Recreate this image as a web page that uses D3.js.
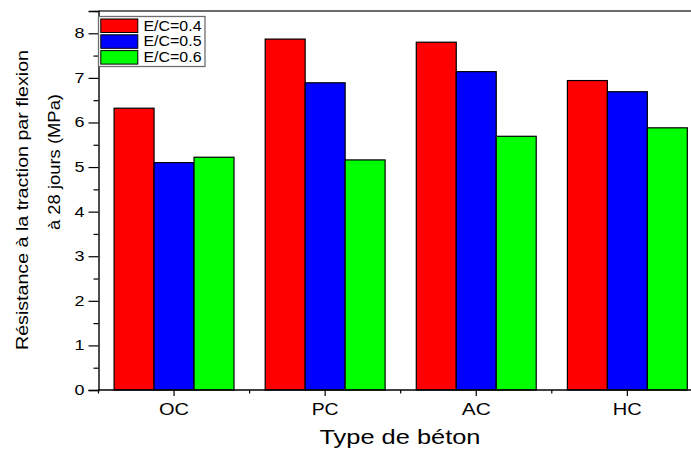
<!DOCTYPE html>
<html>
<head>
<meta charset="utf-8">
<script src="https://cdn.jsdelivr.net/npm/d3@7"></script>
<style>
  html, body { margin: 0; padding: 0; background: #fff; }
  svg { display: block; font-family: "Liberation Sans", Arial, Helvetica, sans-serif; }
</style>
</head>
<body>
<svg id="chart" width="691" height="450"></svg>
<script>
// Flexural tensile strength at 28 days, by concrete type and W/C ratio
const categories = ["OC", "PC", "AC", "HC"];
const seriesNames = ["E/C=0.4", "E/C=0.5", "E/C=0.6"];
const valuesEC04 = [6.32, 7.87, 7.80, 6.94];
const valuesEC05 = [5.10, 6.89, 7.14, 6.69];
const valuesEC06 = [5.22, 5.16, 5.69, 5.88];
const seriesColors = ["#ff0000", "#0000ff", "#00ff00"];
const yTicks = [0, 1, 2, 3, 4, 5, 6, 7, 8];
const yMinorTicks = [0.5, 1.5, 2.5, 3.5, 4.5, 5.5, 6.5, 7.5, 8.5];

const seriesValues = [valuesEC04, valuesEC05, valuesEC06];

const svg = d3.select("#chart");
const plotLeft = 98.5, plotTop = 11, plotBottom = 390;
const step = 151.1;
const plotRight = plotLeft + step * categories.length;   // frame runs past the page edge

const x0 = d3.scaleBand().domain(categories).range([plotLeft, plotRight]).paddingInner(0).paddingOuter(0);
const x1 = d3.scaleBand().domain(seriesNames).range([0, x0.bandwidth()]).paddingInner(0).paddingOuter(0.39);
const y = d3.scaleLinear().domain([0, 8.5]).range([plotBottom, plotTop]);

// Bars
const groups = svg.append("g").selectAll("g")
  .data(categories)
  .join("g")
  .attr("transform", d => `translate(${x0(d)},0)`);

groups.selectAll("rect")
  .data((c, i) => seriesNames.map((s, j) => ({ s, j, v: seriesValues[j][i] })))
  .join("rect")
  .attr("x", d => x1(d.s))
  .attr("y", d => y(d.v))
  .attr("width", x1.bandwidth())
  .attr("height", d => y(0) - y(d.v))
  .attr("fill", d => seriesColors[d.j])
  .attr("stroke", "#000")
  .attr("stroke-width", 1.2);

// Top frame line
svg.append("line")
  .attr("x1", plotLeft).attr("x2", 691)
  .attr("y1", plotTop).attr("y2", plotTop)
  .attr("stroke", "#3a3a3a").attr("stroke-width", 1.6);

// Y axis
const yAxis = d3.axisLeft(y).tickValues(yTicks).tickSize(10).tickPadding(4).tickFormat(d3.format("d"));
const gy = svg.append("g").attr("transform", `translate(${plotLeft},0)`).call(yAxis);
gy.select(".domain").attr("stroke", "#000").attr("stroke-width", 1.4);
gy.selectAll(".tick line").attr("stroke", "#000").attr("stroke-width", 1.2);
gy.selectAll(".tick text")
  .attr("font-size", 14).attr("fill", "#000")
  .attr("font-family", "Liberation Sans, Arial, sans-serif")
  .attr("textLength", 10).attr("lengthAdjust", "spacingAndGlyphs");

const yMinor = d3.axisLeft(y).tickValues(yMinorTicks).tickSize(5).tickFormat("");
const gym = svg.append("g").attr("transform", `translate(${plotLeft},0)`).call(yMinor);
gym.select(".domain").remove();
gym.selectAll(".tick line").attr("stroke", "#000").attr("stroke-width", 1.2);

// X axis
const xAxis = d3.axisBottom(x0).tickSize(6).tickPadding(7).tickSizeOuter(0);
const gx = svg.append("g").attr("transform", `translate(0,${plotBottom})`).call(xAxis);
gx.select(".domain").attr("stroke", "#000").attr("stroke-width", 1.4)
  .attr("d", `M${plotLeft - 0.7},0H691`);
gx.selectAll(".tick line").attr("stroke", "#000").attr("stroke-width", 1.2);
const xLabelWidths = { OC: 30, PC: 27, AC: 29, HC: 29 };
gx.selectAll(".tick text")
  .attr("font-size", 17).attr("fill", "#000")
  .attr("font-family", "Liberation Sans, Arial, sans-serif")
  .attr("textLength", d => xLabelWidths[d]).attr("lengthAdjust", "spacingAndGlyphs");

// Minor x ticks on group boundaries
const boundaries = categories.map(c => x0(c));
svg.append("g").selectAll("line")
  .data(boundaries)
  .join("line")
  .attr("x1", d => d).attr("x2", d => d)
  .attr("y1", plotBottom).attr("y2", plotBottom + 3.5)
  .attr("stroke", "#000").attr("stroke-width", 1.2);

// Axis titles
svg.append("text")
  .attr("x", 400).attr("y", 444)
  .attr("text-anchor", "middle")
  .attr("font-size", 20).attr("fill", "#000")
  .attr("textLength", 161).attr("lengthAdjust", "spacingAndGlyphs")
  .text("Type de béton");

svg.append("text")
  .attr("transform", "translate(28,200) rotate(-90)")
  .attr("text-anchor", "middle")
  .attr("font-size", 17).attr("fill", "#000")
  .attr("textLength", 300).attr("lengthAdjust", "spacingAndGlyphs")
  .text("Résistance à la traction par flexion");

svg.append("text")
  .attr("transform", "translate(60,162) rotate(-90)")
  .attr("text-anchor", "middle")
  .attr("font-size", 17).attr("fill", "#000")
  .attr("textLength", 136).attr("lengthAdjust", "spacingAndGlyphs")
  .text("à 28 jours (MPa)");

// Legend
const legend = svg.append("g");
legend.append("rect")
  .attr("x", 98.5).attr("y", 16.5).attr("width", 106.5).attr("height", 50)
  .attr("fill", "#fff").attr("stroke", "#6e6e6e").attr("stroke-width", 1.3);

const legendRows = legend.selectAll("g.row")
  .data(seriesNames)
  .join("g")
  .attr("class", "row")
  .attr("transform", (d, i) => `translate(0,${19 + i * 15.8})`);

legendRows.append("rect")
  .attr("x", 100.8).attr("y", 0).attr("width", 37).attr("height", 13.5)
  .attr("fill", (d, i) => seriesColors[i])
  .attr("stroke", "#000").attr("stroke-width", 1);

legendRows.append("text")
  .attr("x", 143.5).attr("y", 11.5)
  .attr("font-size", 14).attr("fill", "#000")
  .attr("textLength", 58).attr("lengthAdjust", "spacingAndGlyphs")
  .text(d => d);
</script>
</body>
</html>
